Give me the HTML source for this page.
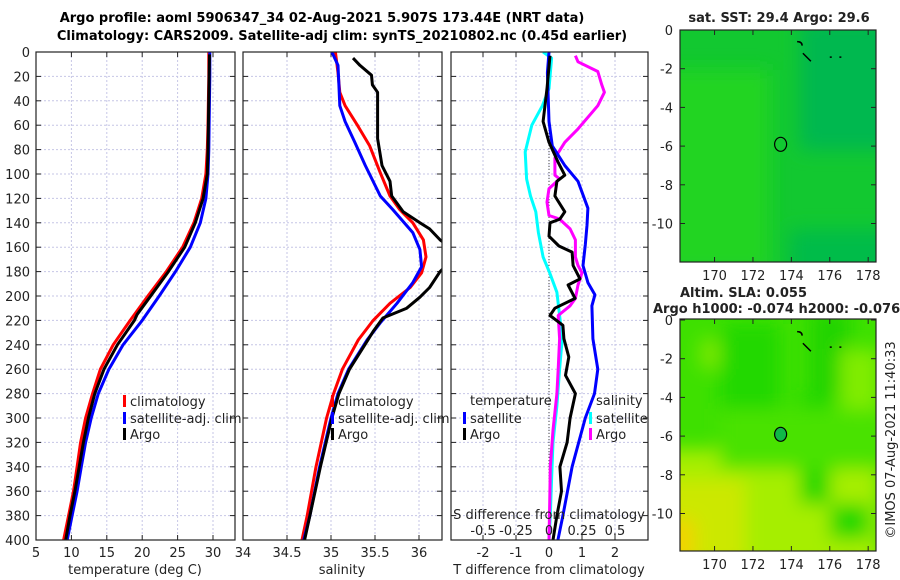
<!DOCTYPE html>
<html><head><meta charset="utf-8"><style>
html,body{margin:0;padding:0;background:#fff;width:900px;height:580px;overflow:hidden}
svg{display:block;font-family:"DejaVu Sans","Liberation Sans",sans-serif}
</style></head><body>
<svg id="chart" width="900" height="580" xmlns="http://www.w3.org/2000/svg">
<defs>
<clipPath id="c1"><rect x="36" y="52" width="199" height="488"/></clipPath>
<clipPath id="c2"><rect x="243" y="52" width="199" height="488"/></clipPath>
<clipPath id="c3"><rect x="451" y="52" width="197" height="488"/></clipPath>
<clipPath id="cm1"><rect x="680" y="30" width="196" height="232"/></clipPath>
<clipPath id="cm2"><rect x="680" y="319" width="196" height="232"/></clipPath>
<filter id="blur" x="-20%" y="-20%" width="140%" height="140%"><feGaussianBlur stdDeviation="9"/></filter>
</defs>
<text x="322" y="22" text-anchor="middle" font-size="13" font-weight="bold">Argo profile: aoml 5906347_34 02-Aug-2021 5.907S 173.44E (NRT data)</text>
<text x="342" y="40" text-anchor="middle" font-size="13" font-weight="bold">Climatology: CARS2009. Satellite-adj clim: synTS_20210802.nc (0.45d earlier)</text>
<g id="g"></g>
</svg>
<script>
// ---------- data ----------
const pressureTicks=[0,20,40,60,80,100,120,140,160,180,200,220,240,260,280,300,320,340,360,380,400];
const tempTicks=[5,10,15,20,25,30];
const salTicks=[34,34.5,35,35.5,36];
const tdiffTicks=[-2,-1,0,1,2];
const sdiffTicks=[-0.5,-0.25,0,0.25,0.5];
const sdiffTickLabels=["-0.5","-0.25","0","0.25","0.5"];
const lonTicks=[170,172,174,176,178];
const latTicks=[0,-2,-4,-6,-8,-10];

const tempClimP=[0,20,60,80,100,120,140,160,180,200,220,240,260,280,300,320,340,360,380,400];
const tempClimV=[29.4,29.4,29.3,29.2,29.0,28.4,27.3,25.7,23.4,20.8,18.3,15.9,14.1,13.0,12.0,11.3,10.8,10.3,9.6,8.9];
const tempSatP=[0,20,60,80,100,120,140,160,180,200,220,240,260,280,300,320,340,360,380,400];
const tempSatV=[29.55,29.55,29.45,29.4,29.3,29.0,28.2,26.8,24.7,22.4,20.0,17.3,15.3,13.8,12.8,12.0,11.4,10.8,10.1,9.4];
const tempArgoP=[2,20,60,80,100,120,140,160,180,200,215,220,240,260,280,300,320,340,360,380,400];
const tempArgoV=[29.5,29.45,29.35,29.3,29.2,28.6,27.5,26.0,23.7,21.2,19.3,18.9,16.5,14.6,13.3,12.4,11.7,11.1,10.5,9.8,9.2];

const salClimP=[0,17,33,44,60,77,99,118,129,140,154,168,181,193,206,220,236,260,280,300,340,380,400];
const salClimV=[35.05,35.08,35.10,35.16,35.30,35.44,35.56,35.67,35.78,35.93,36.05,36.08,36.03,35.90,35.67,35.48,35.31,35.13,35.03,34.95,34.83,34.73,34.67];
const salSatP=[0,11,27,44,57,74,93,118,129,148,162,176,189,206,222,236,260,280,300,340,380,400];
const salSatV=[35.01,35.08,35.09,35.10,35.16,35.27,35.39,35.56,35.70,35.93,36.01,36.03,35.93,35.75,35.56,35.41,35.20,35.08,35.00,34.87,34.76,34.69];
const salArgoP=[5,11,19,27,33,71,93,106,118,131,140,145,154,165,180,193,201,210,218,229,236,260,280,300,340,380,400];
const salArgoV=[35.25,35.33,35.46,35.47,35.53,35.53,35.58,35.67,35.69,35.82,36.01,36.12,36.24,36.45,36.24,36.12,36.01,35.86,35.59,35.48,35.42,35.21,35.09,35.01,34.88,34.76,34.70];

const tdSatP=[0,17,57,77,93,106,128,142,158,175,189,199,208,235,260,280,300,340,380,400];
const tdSatV=[0,-0.05,0,0.1,0.48,0.88,1.18,1.15,1.1,1.03,1.18,1.39,1.3,1.33,1.48,1.38,1.1,0.7,0.42,0.27];
const tdArgoP=[3,30,57,74,90,101,106,118,131,137,140,151,159,164,175,186,191,202,210,216,224,235,250,265,280,300,320,340,360,380,400];
const tdArgoV=[0.03,-0.06,-0.18,0,0.27,0.48,0.24,0.18,0.48,0.33,0.03,0,0.3,0.7,0.73,0.94,0.58,0.79,0.18,0.03,0.42,0.45,0.6,0.5,0.8,0.64,0.55,0.33,0.38,0.24,0.12];
const sdSatP=[0,5,30,44,60,82,104,118,131,148,168,181,197,216,235,260,290,320,350,380,400];
const sdSatV=[-0.045,0.02,0,-0.05,-0.13,-0.18,-0.17,-0.14,-0.1,-0.08,-0.045,0.005,0.06,0.08,0.1,0.08,0.06,0.03,0.02,0.01,0.0];
const sdArgoP=[3,8,16,27,33,44,63,74,87,101,104,112,123,134,137,145,154,168,175,181,191,202,208,216,235,260,280,310,340,370,400];
const sdArgoV=[0.2,0.22,0.37,0.40,0.42,0.37,0.22,0.12,0.045,0.045,0.08,0,-0.015,0,0.08,0.16,0.2,0.2,0.22,0.25,0.22,0.2,0.16,0.07,0.08,0.07,0.06,0.03,0.01,0.005,0.0];

const argoLon=[173.44], argoLat=[-5.907];

// ---------- helpers ----------
const NS="http://www.w3.org/2000/svg";
const G=document.getElementById('g');
function el(tag,attrs,parent){const e=document.createElementNS(NS,tag);for(const k in attrs)e.setAttribute(k,attrs[k]);(parent||G).appendChild(e);return e;}
const yP=p=>52+p*1.22;
const xT=v=>36+(v-5)*7.08;
const xS=v=>243+(v-34)*88;
const xTd=v=>549+v*33;
const xSd=v=>549+v*132;
const FS=13;

function panel(x0,x1,name,xticks,xf,clipId){
  const g=el('g',{});
  
  
  xticks.forEach(t=>{el('line',{x1:xf(t),x2:xf(t),y1:52,y2:540,stroke:'#c6c6e6','stroke-width':1,'stroke-dasharray':'2,2'},g);});
  pressureTicks.forEach(p=>{el('line',{x1:x0,x2:x1,y1:yP(p),y2:yP(p),stroke:'#c6c6e6','stroke-width':1,'stroke-dasharray':'2,2'},g);});
  xticks.forEach(t=>{const x=xf(t);el('line',{x1:x,x2:x,y1:52,y2:57,stroke:'#222'},g);el('line',{x1:x,x2:x,y1:540,y2:535,stroke:'#222'},g);});
  pressureTicks.forEach(p=>{const y=yP(p);el('line',{x1:x0,x2:x0+5,y1:y,y2:y,stroke:'#222'},g);el('line',{x1:x1,x2:x1-5,y1:y,y2:y,stroke:'#222'},g);});
  return g;
}
function series(P,V,xf,color,clip,name){
  const d=P.map((p,i)=>(i?'L':'M')+xf(V[i]).toFixed(1)+','+yP(p).toFixed(1)).join('');
  const path=el('path',{d:d,fill:'none',stroke:color,'stroke-width':3,'stroke-linejoin':'round','clip-path':'url(#'+clip+')'});
  
  
}
function txt(x,y,s,attrs,name){const t=el('text',Object.assign({x:x,y:y,'font-size':FS,fill:'#222'},attrs||{}));t.textContent=s;return t;}
function box(x0,y0,x1,y1,name){const r=el('rect',{x:x0,y:y0,width:x1-x0,height:y1-y0,fill:'none',stroke:'#222','stroke-width':1.2});}
function legendEntry(bx,y,color,label,name){
  const b=el('rect',{x:bx,y:y-6,width:3,height:12,fill:color});
  
  
  txt(bx+7,y+5,label,{},name);
}

// ---------- panel 1: temperature ----------
panel(36,235,'temperature-panel',tempTicks,xT,'c1');
series(tempClimP,tempClimV,xT,'#f00','c1','temp-climatology-line');
series(tempSatP,tempSatV,xT,'#00f','c1','temp-satellite-line');
series(tempArgoP,tempArgoV,xT,'#000','c1','temp-argo-line');
box(36,52,235,540,'temperature-axes');
pressureTicks.forEach(p=>txt(30,yP(p)+5,String(p),{'text-anchor':'end'},'pressure-tick-label'));
tempTicks.forEach(t=>txt(xT(t),557,String(t),{'text-anchor':'middle'},'temp-tick-label'));
txt(135,574,'temperature (deg C)',{'text-anchor':'middle'},'temp-x-axis-title');
legendEntry(123,401,'#f00','climatology','legend-climatology');
legendEntry(123,418,'#00f','satellite-adj. clim','legend-satellite-adj');
legendEntry(123,434,'#000','Argo','legend-argo');

// ---------- panel 2: salinity ----------
panel(243,442,'salinity-panel',salTicks,xS,'c2');
series(salClimP,salClimV,xS,'#f00','c2','sal-climatology-line');
series(salSatP,salSatV,xS,'#00f','c2','sal-satellite-line');
series(salArgoP,salArgoV,xS,'#000','c2','sal-argo-line');
box(243,52,442,540,'salinity-axes');
salTicks.forEach(t=>txt(xS(t),557,String(t),{'text-anchor':'middle'},'sal-tick-label'));
txt(342,574,'salinity',{'text-anchor':'middle'},'sal-x-axis-title');
legendEntry(331,401,'#f00','climatology','legend2-climatology');
legendEntry(331,418,'#00f','satellite-adj. clim','legend2-satellite-adj');
legendEntry(331,434,'#000','Argo','legend2-argo');

// ---------- panel 3: differences ----------
panel(451,648,'difference-panel',tdiffTicks,xTd,'c3');
el('line',{x1:549,x2:549,y1:52,y2:540,stroke:'#444','stroke-width':1,'stroke-dasharray':'1,2'});
series(sdSatP,sdSatV,xSd,'#0ff','c3','sdiff-satellite-line');
series(sdArgoP,sdArgoV,xSd,'#f0f','c3','sdiff-argo-line');
series(tdSatP,tdSatV,xTd,'#00f','c3','tdiff-satellite-line');
series(tdArgoP,tdArgoV,xTd,'#000','c3','tdiff-argo-line');
box(451,52,648,540,'difference-axes');
tdiffTicks.forEach(t=>txt(xTd(t),557,String(t),{'text-anchor':'middle'},'tdiff-tick-label'));
txt(549,574,'T difference from climatology',{'text-anchor':'middle'},'tdiff-x-axis-title');
sdiffTicks.forEach((t,i)=>txt(xSd(t),535,sdiffTickLabels[i],{'text-anchor':'middle'},'sdiff-tick-label'));
txt(549,519,'S difference from climatology',{'text-anchor':'middle'},'sdiff-axis-title');
txt(470,405,'temperature',{},'legend3-temperature-heading');
legendEntry(463,418,'#00f','satellite','legend3-temp-satellite');
legendEntry(463,434,'#000','Argo','legend3-temp-argo');
txt(596,405,'salinity',{},'legend3-salinity-heading');
legendEntry(589,418,'#0ff','satellite','legend3-sal-satellite');
legendEntry(589,434,'#f0f','Argo','legend3-sal-argo');

// ---------- maps ----------
const mx=lon=>680+(lon-168.2)*19.2;
const myTop=lat=>30-lat*19.35;
const myBot=lat=>320-lat*19.35;
function map(y0,myf,clip,name,top){
  const g=el('g',{'clip-path':'url(#'+clip+')'});
  
  
  if(top){
    el('rect',{x:680,y:y0,width:196,height:232,fill:'#12c830'},g);
    const f=el('g',{filter:'url(#blur)'},g);
    el('rect',{x:660,y:y0+40,width:110,height:200,fill:'#22d420'},f);
    el('rect',{x:800,y:y0-10,width:100,height:130,fill:'#05b850'},f);
    el('rect',{x:790,y:y0+200,width:110,height:60,fill:'#06bc48'},f);
  }else{
    el('rect',{x:680,y:y0,width:196,height:232,fill:'#3ee000'},g);
    const f=el('g',{filter:'url(#blur)'},g);
    el('rect',{x:700,y:y0+20,width:30,height:30,fill:'#7ae800'},f);
    el('rect',{x:720,y:y0+5,width:60,height:90,fill:'#22d800'},f);
    el('rect',{x:810,y:y0-10,width:40,height:90,fill:'#22d400'},f);
    el('rect',{x:840,y:y0+30,width:40,height:60,fill:'#80ec00'},f);
    el('rect',{x:650,y:y0+130,width:230,height:120,fill:'#a6ee00'},f);
    el('rect',{x:655,y:y0+160,width:90,height:90,fill:'#cce800'},f);
    el('rect',{x:655,y:y0+200,width:40,height:50,fill:'#f0d400'},f);
    el('rect',{x:800,y:y0+75,width:30,height:110,fill:'#22d800'},f);
    el('rect',{x:720,y:y0+90,width:200,height:60,fill:'#48e200'},f);
    el('rect',{x:830,y:y0+185,width:40,height:35,fill:'#22d800'},f);
  }
  const cx=mx(argoLon[0]),cy=myf(argoLat[0]);
  const c=el('ellipse',{cx:cx,cy:cy,rx:6,ry:7,fill:top?'none':'#10b848',stroke:'#000','stroke-width':1.2},g);
  
  
  el('path',{d:`M${mx(174.3)},${myf(-0.6)} q5,0 5,4 M${mx(174.6)},${myf(-1.2)} l8,8 M${mx(176)},${myf(-1.4)} l2,0 M${mx(176.5)},${myf(-1.4)} l2,0`,stroke:'#000','stroke-width':1.5,fill:'none'},g);
  box(680,y0,876,y0+232,name+'-frame');
  lonTicks.forEach(l=>{el('line',{x1:mx(l),x2:mx(l),y1:y0+232,y2:y0+227,stroke:'#222'});el('line',{x1:mx(l),x2:mx(l),y1:y0,y2:y0+5,stroke:'#222'});});
  latTicks.forEach(l=>{el('line',{x1:680,x2:685,y1:myf(l),y2:myf(l),stroke:'#222'});el('line',{x1:876,x2:871,y1:myf(l),y2:myf(l),stroke:'#222'});});
  lonTicks.forEach(l=>txt(mx(l),y0+250,String(l),{'text-anchor':'middle'},'lon-tick-label'));
  latTicks.forEach(l=>txt(673,myf(l)+5,String(l),{'text-anchor':'end'},'lat-tick-label'));
}
map(30,myTop,'cm1','sst-map',true);
map(319,myBot,'cm2','sla-map',false);
txt(779,22,'sat. SST: 29.4 Argo: 29.6',{'text-anchor':'middle','font-weight':'bold'},'sst-map-title');
txt(680,297,'Altim. SLA: 0.055',{'font-weight':'bold'},'sla-map-title-1');
txt(653,313,'Argo h1000: -0.074 h2000: -0.076',{'font-weight':'bold'},'sla-map-title-2');
txt(0,0,'©IMOS 07-Aug-2021 11:40:33',{'text-anchor':'middle',transform:'translate(895,440) rotate(-90)'},'timestamp-credit');
</script>
</body></html>
